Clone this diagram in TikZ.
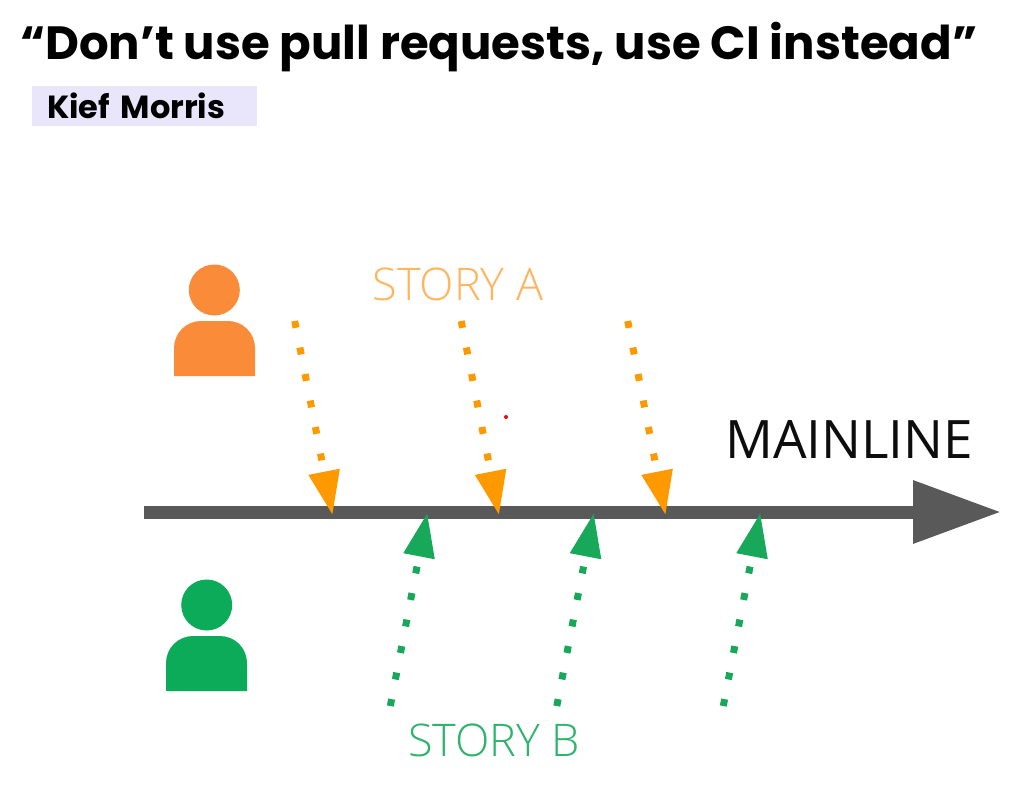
\documentclass[tikz,border=0pt]{standalone}
\usepackage{fontspec}
\setmainfont{Poppins}
\newfontfamily\lightfont{Open Sans Light}
\newfontfamily\regularfont{Open Sans}
\usetikzlibrary{arrows.meta}
\definecolor{mainlinegrey}{HTML}{595959}
\definecolor{storyorange}{HTML}{FF9900}
\definecolor{storygreen}{HTML}{17A85A}
\definecolor{labelorange}{HTML}{FFB55E}
\definecolor{labelgreen}{HTML}{2DB36C}
\definecolor{personorange}{HTML}{F98B39}
\definecolor{persongreen}{HTML}{0BAB5A}
\definecolor{authorbg}{HTML}{E9E6FC}
\tikzstyle{title}=[anchor=west,inner sep=0pt,font=\fontsize{46.6}{50}\selectfont\bfseries]
\tikzstyle{author}=[anchor=west,fill=authorbg,minimum height=40pt,inner xsep=15.5pt,inner ysep=0pt,text width=194pt,font=\fontsize{32}{36}\selectfont\bfseries]
\tikzstyle{storylabel}=[inner sep=0pt,font=\lightfont\fontsize{45}{50}\selectfont]
\tikzstyle{mainline}=[line width=13pt,mainlinegrey,-{Triangle[length=88pt,width=60pt]}]
\tikzstyle{commit}=[line width=7pt,dash pattern=on 7pt off 20pt,-{Triangle[length=44pt,width=30pt]}]

\begin{document}
\begin{tikzpicture}[x=1pt,y=-1pt]
  \useasboundingbox (0,0) rectangle (1019,786);

  \node[title] (title) at (20,47) {“Don’t use pull requests, use CI instead”};
  \node[author] (author) at (31.5,106) {Kief Morris};
  \node[storylabel,text=labelorange] (storyA) at (458,284) {STORY A};
  \node[storylabel,text=labelgreen] (storyB) at (494,740) {STORY B};
  \node[storylabel,text=black!95,font=\regularfont\fontsize{53}{56}\selectfont,anchor=base west] (mainlabel) at (725,458) {MAINLINE};

  % people
  \fill[personorange] (214.3,290) circle (25.5);
  \fill[personorange] (174,376) -- (174,348) arc (180:270:27) -- (228,321) arc (270:360:27) -- (255,376) -- cycle;
  \fill[persongreen] (206.7,605) circle (25.5);
  \fill[persongreen] (166,691) -- (166,663) arc (180:270:27) -- (220,636) arc (270:360:27) -- (247,691) -- cycle;

  \coordinate (mainstart) at (143.5,512);
  \coordinate (mainend) at (1001,512);
  \draw[mainline] (mainstart) -- (mainend);

  \coordinate (a1from) at (294.7,321);
  \coordinate (a1to) at (332.5,515);
  \coordinate (a2from) at (461.2,321);
  \coordinate (a2to) at (499,515);
  \coordinate (a3from) at (627.7,321);
  \coordinate (a3to) at (665.5,515);
  \draw[commit,storyorange] (a1from) -- (a1to);
  \draw[commit,storyorange] (a2from) -- (a2to);
  \draw[commit,storyorange] (a3from) -- (a3to);

  \coordinate (b1from) at (390.3,706);
  \coordinate (b1to) at (427.3,513);
  \coordinate (b2from) at (556.8,706);
  \coordinate (b2to) at (593.8,513);
  \coordinate (b3from) at (723.3,706);
  \coordinate (b3to) at (760.3,513);
  \draw[commit,storygreen] (b1from) -- (b1to);
  \draw[commit,storygreen] (b2from) -- (b2to);
  \draw[commit,storygreen] (b3from) -- (b3to);

  \fill[red] (506,417) circle (2);
\end{tikzpicture}
\end{document}
